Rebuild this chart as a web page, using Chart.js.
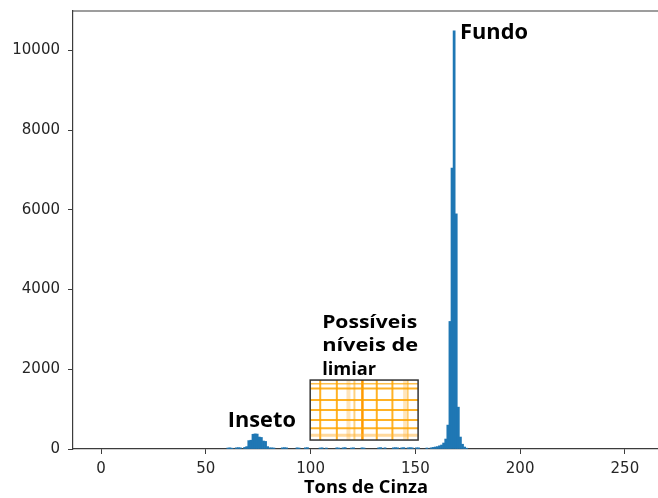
<!DOCTYPE html>
<html>
<head>
<meta charset="utf-8">
<script src="https://cdn.jsdelivr.net/npm/chart.js@4/dist/chart.umd.min.js"></script>
<style>
  html, body { margin: 0; padding: 0; background: #fff; overflow: hidden; }
  canvas { display: block; }
</style>
</head>
<body>
<canvas id="histograma" width="658" height="498"></canvas>
<script>
// Histograma de tons de cinza (somente os níveis com contagem > 0)
const niveis = [
  60, 61, 62, 64, 65, 66, 68, 69,
  70, 71, 72, 73, 74, 75, 76, 77, 78, 79, 80, 81, 82,
  86, 87, 88, 93, 94, 97, 98,
  104, 105, 107, 112, 113, 115, 116, 119, 120, 124, 125,
  132, 133, 135, 139, 140, 141, 143, 144, 146, 147, 148, 150, 151,
  155, 157, 158, 159, 160, 161, 162, 163, 164, 165, 166, 167, 168,
  169, 170, 171, 172, 173, 174
];
const contagens = [
  25, 30, 20, 30, 35, 30, 40, 60,
  210, 220, 370, 380, 375, 300, 290, 200, 190, 60, 30, 30, 25,
  30, 35, 30, 30, 25, 30, 35,
  25, 30, 25, 30, 25, 30, 35, 25, 30, 30, 25,
  30, 35, 30, 30, 35, 30, 30, 35, 30, 35, 30, 30, 30,
  25, 30, 40, 50, 60, 80, 100, 150, 250, 600, 3200, 7050, 10490,
  5900, 1050, 300, 120, 50, 20
];
const ticksX = [0, 50, 100, 150, 200, 250];
const ticksY = [0, 2000, 4000, 6000, 8000, 10000];

const AZUL = "#1f77b4";
const EIXO = "#3c3c3c";
const FONTE_TEXTO = "'Open Sans', Lato, sans-serif";

// escreve texto esticado até uma largura fixa
function textoLargura(ctx, texto, x, y, largura) {
  const w = ctx.measureText(texto).width;
  ctx.save();
  ctx.translate(x, y);
  ctx.scale(largura / w, 1);
  ctx.fillText(texto, 0, 0);
  ctx.restore();
}

// Anotações desenhadas por cima das barras
const anotacoes = {
  id: "anotacoes",
  afterDatasetsDraw(chart) {
    const { ctx, chartArea, scales } = chart;
    const x = scales.x, y = scales.y;
    ctx.save();

    // linha superior do quadro
    ctx.strokeStyle = EIXO;
    ctx.lineWidth = 1.2;
    ctx.beginPath();
    ctx.moveTo(chartArea.left, chartArea.top);
    ctx.lineTo(chartArea.right, chartArea.top);
    ctx.stroke();

    // caixa com a grade laranja (faixa de limiares)
    const bx0 = x.getPixelForValue(99.8), bx1 = x.getPixelForValue(151.3);
    const by0 = y.getPixelForValue(1730), by1 = y.getPixelForValue(225);
    const bw = bx1 - bx0, bh = by1 - by0;
    ctx.fillStyle = "#fff";
    ctx.fillRect(bx0, by0, bw, bh);

    const verticais = [
      [0.093, 2, "rgba(255,165,0,0.85)"],
      [0.247, 2, "rgba(255,165,0,0.85)"],
      [0.355, 4, "rgba(255,180,60,0.35)"],
      [0.41, 2, "rgba(255,165,0,0.5)"],
      [0.484, 2.5, "#ff9a00"],
      [0.617, 2, "rgba(255,165,0,0.85)"],
      [0.762, 2, "rgba(255,165,0,0.85)"],
      [0.88, 4, "rgba(255,180,60,0.35)"],
      [0.905, 1.5, "rgba(255,165,0,0.6)"]
    ];
    const horizontais = [
      [0.06, 1.5, "rgba(255,165,0,0.7)"],
      [0.14, 2, "rgba(255,165,0,0.85)"],
      [0.333, 2, "rgba(255,165,0,0.85)"],
      [0.5, 2, "rgba(255,165,0,0.85)"],
      [0.667, 2, "rgba(255,165,0,0.85)"],
      [0.805, 2, "rgba(255,165,0,0.85)"],
      [0.92, 3, "rgba(255,180,60,0.5)"]
    ];
    verticais.forEach(([f, w, c]) => {
      ctx.strokeStyle = c;
      ctx.lineWidth = w;
      ctx.beginPath();
      ctx.moveTo(bx0 + f * bw, by0);
      ctx.lineTo(bx0 + f * bw, by1);
      ctx.stroke();
    });
    horizontais.forEach(([f, w, c]) => {
      ctx.strokeStyle = c;
      ctx.lineWidth = w;
      ctx.beginPath();
      ctx.moveTo(bx0, by0 + f * bh);
      ctx.lineTo(bx1, by0 + f * bh);
      ctx.stroke();
    });
    ctx.strokeStyle = "#333";
    ctx.lineWidth = 1.5;
    ctx.strokeRect(bx0, by0, bw, bh);

    // rótulos em negrito
    ctx.fillStyle = "#000";
    ctx.textBaseline = "middle";
    ctx.textAlign = "left";
    ctx.font = "bold 21px " + FONTE_TEXTO;
    textoLargura(ctx, "Fundo", x.getPixelForValue(171.3), y.getPixelForValue(10450), 68);
    textoLargura(ctx, "Inseto", x.getPixelForValue(60.5), y.getPixelForValue(710), 68);

    ctx.font = "bold 18px " + FONTE_TEXTO;
    const linhas = [["Possíveis", 95], ["níveis de", 96], ["limiar", 54]];
    linhas.forEach(([linha, larg], i) => {
      textoLargura(ctx, linha, x.getPixelForValue(105.5), y.getPixelForValue(3170) + i * 23.5, larg);
    });

    // título do eixo x
    ctx.font = "bold 17px " + FONTE_TEXTO;
    textoLargura(ctx, "Tons de Cinza", 304, 488, 124);

    ctx.restore();
  }
};

new Chart(document.getElementById("histograma"), {
  type: "bar",
  data: {
    datasets: [
      {
        data: niveis.map((n, i) => ({ x: n + 0.5, y: contagens[i] })),
        backgroundColor: AZUL,
        borderWidth: 0,
        barPercentage: 1,
        categoryPercentage: 1,
        grouped: false
      }
    ]
  },
  options: {
    responsive: false,
    animation: false,
    devicePixelRatio: 1,
    layout: { padding: { top: 11, right: 0, left: 0, bottom: 0 } },
    plugins: {
      legend: { display: false },
      tooltip: { enabled: false }
    },
    scales: {
      x: {
        type: "linear",
        offset: false,
        min: -13.4,
        max: 265.8,
        afterBuildTicks: (s) => { s.ticks = ticksX.map((v) => ({ value: v })); },
        afterFit: (s) => { s.height = 49; s.paddingLeft = 0; s.paddingRight = 0; },
        border: { display: true, color: EIXO, width: 1.2 },
        grid: { display: true, offset: false, drawOnChartArea: false, drawTicks: true, tickLength: 5, color: EIXO },
        ticks: {
          padding: 6,
          color: "#262626",
          font: { family: "'DejaVu Sans'", size: 15 },
          maxRotation: 0,
          callback: (v) => String(v)
        }
      },
      y: {
        min: 0,
        max: 10990,
        afterBuildTicks: (s) => { s.ticks = ticksY.map((v) => ({ value: v })); },
        afterFit: (s) => { s.width = 73; s.paddingTop = 0; s.paddingBottom = 0; },
        border: { display: true, color: EIXO, width: 1.2 },
        grid: { display: true, drawOnChartArea: false, drawTicks: true, tickLength: 5, color: EIXO },
        ticks: {
          padding: 8,
          color: "#262626",
          font: { family: "'DejaVu Sans'", size: 15 },
          callback: (v) => String(v)
        }
      }
    }
  },
  plugins: [anotacoes]
});
</script>
</body>
</html>
